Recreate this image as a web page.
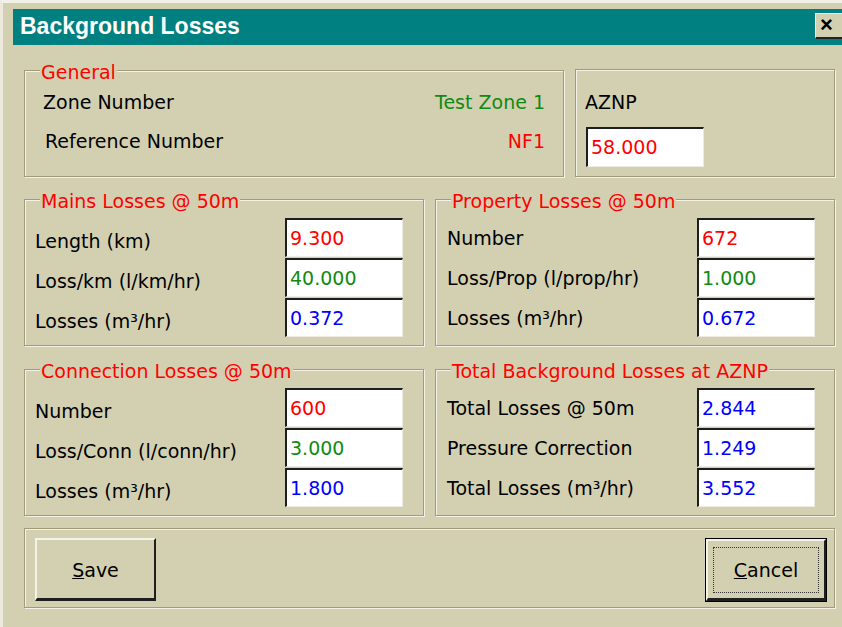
<!DOCTYPE html>
<html>
<head>
<meta charset="utf-8">
<title>Background Losses</title>
<script src="https://cdn.jsdelivr.net/npm/chart.js@4"></script>
<style>
  html, body { margin: 0; padding: 0; }
  body {
    width: 842px; height: 627px; position: relative; overflow: hidden;
    background: #D3D0B2;
    font-family: "DejaVu Sans", sans-serif; font-size: 19px;
  }
  .abs { position: absolute; white-space: nowrap; line-height: 20px; }
  .frame { position: absolute; left: 0; top: 0; width: 842px; height: 627px;
    border-left: 3px solid #ECEADC; border-top: 3px solid #F2F1E8; box-sizing: border-box; }
  .title { position: absolute; left: 13px; top: 9px; width: 829px; height: 36px; background: #008080; }
  .title span { position: absolute; left: 7px; top: 4px; color: #fff; font: bold 23px "Liberation Sans", Arial, sans-serif; line-height: 26px; }
  .close { position: absolute; left: 815px; top: 13px; width: 30px; height: 26px; background: #D3D0B2;
    border-top: 1px solid #F4F3EA; border-left: 1px solid #F4F3EA; border-bottom: 2px solid #222; box-sizing: border-box;
    font: bold 22px "Liberation Sans", Arial, sans-serif; line-height: 22px; padding-left: 4px; color: #000; }
  .group { position: absolute; box-sizing: border-box; border: 1px solid #A29B7A;
    box-shadow: inset 1px 1px 0 #F4F2E6, 1px 1px 0 #F4F2E6; }
  .legend { background: #D3D0B2; padding: 0 1px; }
  .field { position: absolute; box-sizing: border-box; background: #fff;
    border-top: 2px solid #1E1E1E; border-left: 2px solid #1E1E1E;
    border-right: 1px solid #EEECE0; border-bottom: 1px solid #EEECE0; }
  .btn { position: absolute; box-sizing: border-box; background: #D3D0B2;
    border-top: 2px solid #F4F3EA; border-left: 2px solid #F4F3EA;
    border-right: 2px solid #1E1E1E; border-bottom: 3px solid #1E1E1E; }
  .btn span { position: absolute; left: 0; right: 0; text-align: center; line-height: 20px; color: #000; }
  .focus { position: absolute; border: 1px dotted #333; }
</style>
</head>
<body>
<script>
// dialog content
const groupNames = ['General', 'Mains Losses @ 50m', 'Property Losses @ 50m', 'Connection Losses @ 50m', 'Total Background Losses at AZNP'];
const generalLabels = ['Zone Number', 'Reference Number'];
const generalValues = ['Test Zone 1', 'NF1'];
const aznpLabel = 'AZNP';
const aznpValue = '58.000';
const mainsLabels = ['Length (km)', 'Loss/km (l/km/hr)', 'Losses (m³/hr)'];
const mainsValues = ['9.300', '40.000', '0.372'];
const propertyLabels = ['Number', 'Loss/Prop (l/prop/hr)', 'Losses (m³/hr)'];
const propertyValues = ['672', '1.000', '0.672'];
const connectionLabels = ['Number', 'Loss/Conn (l/conn/hr)', 'Losses (m³/hr)'];
const connectionValues = ['600', '3.000', '1.800'];
const totalLabels = ['Total Losses @ 50m', 'Pressure Correction', 'Total Losses (m³/hr)'];
const totalValues = ['2.844', '1.249', '3.552'];
const buttonLabels = ['Save', 'Cancel'];

const RED = '#FF0000', GREEN = '#118A11', BLUE = '#0000FF';

function el(cls, css, html) {
  const d = document.createElement('div');
  d.className = cls;
  Object.assign(d.style, css);
  if (html !== undefined) d.innerHTML = html;
  document.body.appendChild(d);
  return d;
}
// text placed by its baseline
function text(x, base, str, color, right) {
  const css = { top: (base - 17) + 'px', color: color || '#000' };
  if (right) css.right = (842 - x) + 'px'; else css.left = x + 'px';
  const d = el('abs', css);
  d.textContent = str;
  return d;
}
function group(x, y, w, h, name) {
  el('group', { left: x + 'px', top: y + 'px', width: w + 'px', height: h + 'px' });
  if (name) {
    const d = text(x + 16, y + 9, name, RED);
    d.classList.add('legend');
  }
}
function field(x, y, w, h, value, color) {
  el('field', { left: x + 'px', top: y + 'px', width: w + 'px', height: h + 'px' });
  text(x + 5, y + 27, value, color);
}
function rows(gx, gy, fx, labels, values, colors, labelOff) {
  labels.forEach((lab, i) => {
    const top = gy + 19 + i * 40;
    text(gx + 11, top + labelOff, lab);
    field(fx, top, 118, 39, values[i], colors[i]);
  });
}

el('frame', {});
el('title', {}, '<span>Background Losses</span>');
el('close', {}, '×');

// General
group(24, 70, 540, 107, groupNames[0]);
text(43, 109, generalLabels[0]);
text(45, 148, generalLabels[1]);
text(545, 109, generalValues[0], GREEN, true);
text(545, 148, generalValues[1], RED, true);

// AZNP
group(575, 69, 260, 108, null);
text(585, 109, aznpLabel);
field(586, 127, 118, 40, aznpValue, RED);

// Mains / Property
group(24, 199, 400, 147, groupNames[1]);
rows(24, 199, 285, mainsLabels, mainsValues, [RED, GREEN, BLUE], 30);
group(435, 199, 400, 147, groupNames[2]);
rows(436, 199, 697, propertyLabels, propertyValues, [RED, GREEN, BLUE], 27);

// Connection / Total
group(24, 369, 400, 147, groupNames[3]);
rows(24, 369, 285, connectionLabels, connectionValues, [RED, GREEN, BLUE], 30);
group(435, 369, 400, 147, groupNames[4]);
rows(436, 369, 697, totalLabels, totalValues, [BLUE, BLUE, BLUE], 27);

// buttons
group(24, 528, 811, 80, null);
const save = el('btn', { left: '35px', top: '538px', width: '121px', height: '63px' });
save.innerHTML = '<span style="top:20px"><u>' + buttonLabels[0][0] + '</u>' + buttonLabels[0].slice(1) + '</span>';
el('btn', { left: '705px', top: '538px', width: '122px', height: '64px', outline: '1px solid #000', outlineOffset: '-1px' });
const cancel = el('btn', { left: '706px', top: '539px', width: '120px', height: '62px' });
cancel.innerHTML = '<span style="top:19px"><u>' + buttonLabels[1][0] + '</u>' + buttonLabels[1].slice(1) + '</span>';
el('focus', { left: '713px', top: '547px', width: '104px', height: '44px' });
</script>
</body>
</html>
